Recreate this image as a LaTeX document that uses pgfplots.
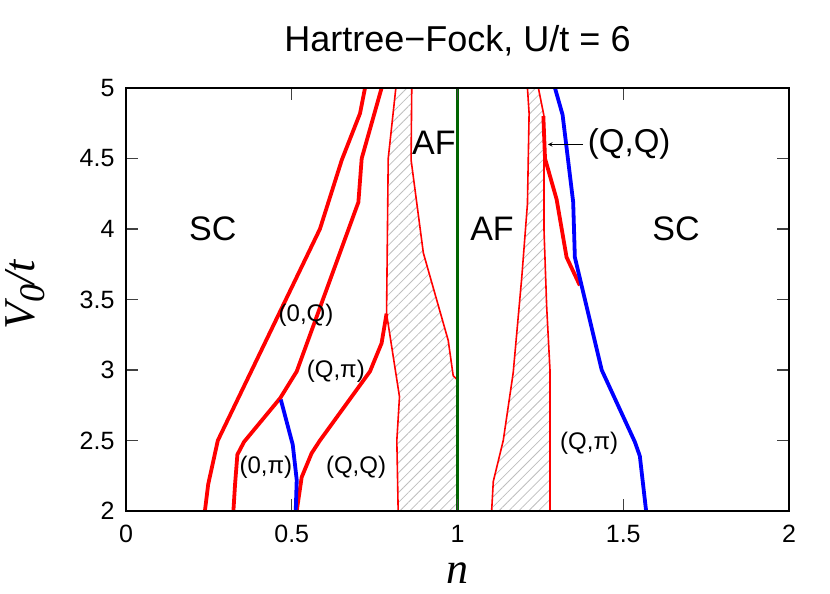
\documentclass[border=0pt]{standalone}
\usepackage{fontspec}
\setmainfont{Liberation Sans}
\newfontfamily\serif{Liberation Serif}
\usepackage{pgfplots}
\pgfplotsset{compat=1.18}
\usetikzlibrary{patterns.meta}
\definecolor{hfred}{RGB}{255,0,0}
\definecolor{hfblue}{RGB}{0,0,255}
\definecolor{hfgreen}{RGB}{0,100,0}
\definecolor{hatch}{RGB}{190,190,190}

\begin{document}
\begin{tikzpicture}
\begin{axis}[
    scale only axis, width=663pt, height=423pt,
    xmin=0, xmax=2, ymin=2, ymax=5,
    xtick={0,0.5,1,1.5,2}, ytick={2,2.5,3,3.5,4,4.5,5},
    tick align=inside, major tick length=12pt,
    tick style={line width=1.2pt, black!75},
    axis line style={line width=2.5pt},
    axis on top,
    ticklabel style={font=\fontsize{25}{29}\selectfont},
    xticklabel style={yshift=-11pt},
    yticklabel style={xshift=-8pt},
    /pgf/number format/assume math mode=true,
]
% hatched coexistence regions
\addplot[draw=none, pattern={Lines[angle=45,distance=7pt,line width=0.8pt]}, pattern color=hatch]
  coordinates {(0.821,2.0) (0.817,2.50) (0.825,2.81) (0.786,3.40) (0.791,4.50) (0.814,5.0)
               (0.862,5.0) (0.860,4.49) (0.897,3.83) (0.972,3.21) (0.987,2.96) (1.0,2.93) (1.0,2.0)} -- cycle;
\addplot[draw=none, pattern={Lines[angle=45,distance=7pt,line width=0.8pt]}, pattern color=hatch]
  coordinates {(1.103,2.0) (1.108,2.21) (1.138,2.50) (1.168,2.98) (1.194,3.66) (1.211,4.18) (1.216,4.82) (1.211,5.0)
               (1.244,5.0) (1.261,4.80) (1.261,3.99) (1.269,3.45) (1.279,3.0) (1.279,2.0)} -- cycle;
% thin red boundaries
\addplot[hfred, line width=1.6pt] coordinates {(0.821,2.0) (0.817,2.50) (0.825,2.81) (0.786,3.40) (0.791,4.50) (0.814,5.0)};
\addplot[hfred, line width=1.6pt] coordinates {(0.862,5.0) (0.860,4.49) (0.897,3.83) (0.972,3.21) (0.987,2.96) (1.0,2.93)};
\addplot[hfred, line width=1.6pt] coordinates {(1.103,2.0) (1.108,2.21) (1.138,2.50) (1.168,2.98) (1.194,3.66) (1.211,4.18) (1.216,4.82) (1.211,5.0)};
\addplot[hfred, line width=1.6pt] coordinates {(1.279,2.0) (1.279,3.0) (1.269,3.45) (1.261,3.99) (1.261,4.80) (1.244,5.0)};
% thick red boundaries
\addplot[hfred, line width=3.8pt] coordinates {(0.238,2.0) (0.248,2.19) (0.277,2.50) (0.585,4.00) (0.651,4.49) (0.706,4.82) (0.721,5.0)};
\addplot[hfred, line width=3.8pt] coordinates {(0.324,2.0) (0.329,2.19) (0.336,2.40) (0.356,2.49) (0.465,2.80) (0.515,2.99) (0.701,4.19) (0.711,4.50) (0.771,5.0)};
\addplot[hfred, line width=3.8pt] coordinates {(0.515,2.0) (0.530,2.24) (0.560,2.41) (0.585,2.50) (0.736,2.99) (0.771,3.19) (0.786,3.40)};
\addplot[hfred, line width=3.8pt] coordinates {(1.259,4.80) (1.264,4.50) (1.299,4.21) (1.329,3.80) (1.369,3.60)};
% blue boundaries
\addplot[hfblue, line width=3.8pt] coordinates {(0.467,2.79) (0.503,2.47) (0.515,2.22) (0.512,2.0)};
\addplot[hfblue, line width=3.8pt] coordinates {(1.294,5.0) (1.317,4.81) (1.349,4.19) (1.354,3.80) (1.435,3.0) (1.535,2.49) (1.550,2.39) (1.569,2.0)};
% half filling
\addplot[hfgreen, line width=3.8pt] coordinates {(1,2) (1,5)};
% arrow
\addplot[black, line width=1pt, -stealth] coordinates {(1.379,4.60) (1.273,4.60)};
% phase labels
\node[font=\fontsize{34}{38}\selectfont] at (axis cs:0.262,4.0) {SC};
\node[font=\fontsize{34}{38}\selectfont] at (axis cs:0.929,4.61) {AF};
\node[font=\fontsize{34}{38}\selectfont] at (axis cs:1.104,4.0) {AF};
\node[font=\fontsize{34}{38}\selectfont] at (axis cs:1.659,4.0) {SC};
\node[font=\fontsize{33}{37}\selectfont] at (axis cs:1.518,4.60) {(Q,Q)};
\node[font=\fontsize{24}{28}\selectfont] at (axis cs:0.543,3.39) {(0,Q)};
\node[font=\fontsize{24}{28}\selectfont] at (axis cs:0.633,2.99) {(Q,π)};
\node[font=\fontsize{24}{28}\selectfont] at (axis cs:0.422,2.31) {(0,π)};
\node[font=\fontsize{24}{28}\selectfont] at (axis cs:0.694,2.31) {(Q,Q)};
\node[font=\fontsize{24}{28}\selectfont] at (axis cs:1.397,2.48) {(Q,π)};
\end{axis}
\node[font=\fontsize{36}{40}\selectfont, anchor=base] at ([yshift=36pt]current axis.north) {Hartree−Fock, U/t = 6};
\node[font=\fontsize{44}{48}\selectfont\serif\itshape, anchor=base, inner sep=0pt] at ([yshift=-73pt]current axis.south) {n};
\node[font=\fontsize{44}{48}\selectfont\serif\itshape, rotate=90, anchor=base west, inner sep=0pt]
  at ([xshift=-91pt,yshift=181pt]current axis.south west) {V\raisebox{-0.22em}{\fontsize{36}{40}\selectfont 0}/t};
\path ([xshift=-126pt,yshift=-83pt]current axis.south west) rectangle ([xshift=41pt,yshift=88pt]current axis.north east);
\end{tikzpicture}
\end{document}
